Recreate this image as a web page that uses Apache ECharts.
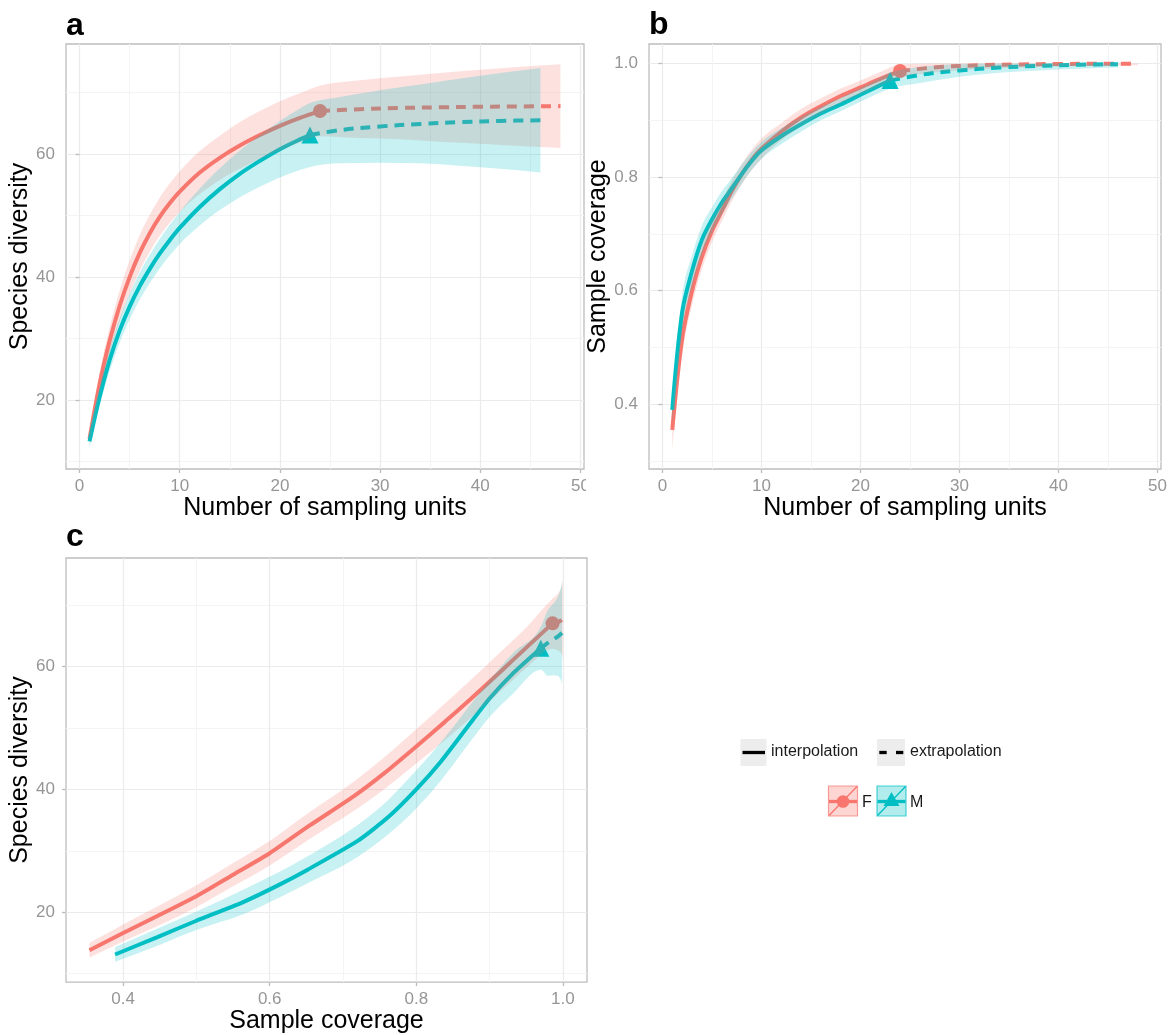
<!DOCTYPE html>
<html><head><meta charset="utf-8">
<script src="https://cdn.jsdelivr.net/npm/echarts@6/dist/echarts.min.js"></script>
<style>html,body{margin:0;padding:0;background:#fff}#c{width:1171px;height:1035px}</style>
</head><body><div id="c"></div>
<script>
const FONT = '"Liberation Sans", Arial, Helvetica, sans-serif';
const RED = '#F8766D', TEAL = '#00BFC4';

// ---- Panels a & b: number of sampling units (F) ----
const fM_int = [1,2,3,4,5,6,7,8,9,10,12,14,16,18,20,22,24];
const fQD_int = [13.7,22.6,29.6,35.3,40.0,43.9,47.1,49.8,52.0,53.9,57.0,59.4,61.4,63.1,64.6,65.9,67.0];
const fQDlo_int = [12.7,20.8,27.4,32.8,37.3,41.0,44.1,46.7,48.8,50.6,53.5,55.8,57.6,59.2,60.6,61.9,62.9];
const fQDhi_int = [14.7,24.4,31.8,37.8,42.7,46.8,50.1,52.9,55.2,57.2,60.5,63.0,65.2,67.0,68.6,69.9,71.1];
const fSC_int = [0.355,0.516,0.600,0.660,0.705,0.740,0.775,0.805,0.830,0.850,0.880,0.905,0.925,0.943,0.958,0.973,0.987];
const fSClo_int = [0.320,0.486,0.575,0.638,0.685,0.722,0.757,0.787,0.812,0.832,0.865,0.890,0.911,0.930,0.946,0.961,0.975];
const fSChi_int = [0.390,0.546,0.625,0.682,0.725,0.758,0.793,0.823,0.848,0.868,0.895,0.920,0.939,0.956,0.970,0.985,0.999];
const fM_ext = [24,28,32,36,40,44,48];
const fQD_ext = [67.0,67.3,67.5,67.6,67.7,67.75,67.8];
const fQDlo_ext = [62.9,62.6,62.4,62.0,61.7,61.3,61.0];
const fQDhi_ext = [71.1,72.0,72.6,73.2,73.7,74.2,74.6];
const fSC_ext = [0.987,0.994,0.997,0.9985,0.9993,0.9997,0.9999];
const fSClo_ext = [0.975,0.985,0.990,0.993,0.995,0.996,0.997];
const fSChi_ext = [0.999,1.0,1.0,1.0,1.0,1.0,1.0];

// ---- Panels a & b (M) ----
const mM_int = [1,2,3,4,5,6,7,8,9,10,12,14,16,18,20,22,23];
const mQD_int = [13.3,20.5,26.5,31.3,35.2,38.5,41.3,43.8,46.0,48.0,51.4,54.3,56.8,58.9,60.8,62.4,63.1];
const mQDlo_int = [12.3,19.0,24.7,29.3,33.1,36.3,39.0,41.4,43.5,45.4,48.4,50.9,53.0,54.7,56.2,57.4,57.9];
const mQDhi_int = [14.3,22.0,28.3,33.3,37.3,40.7,43.6,46.2,48.5,50.6,54.4,57.7,60.6,63.1,65.4,67.4,68.3];
const mSC_int = [0.390,0.562,0.635,0.690,0.725,0.755,0.780,0.805,0.828,0.847,0.872,0.893,0.912,0.928,0.945,0.962,0.970];
const mSClo_int = [0.365,0.532,0.607,0.665,0.703,0.735,0.762,0.788,0.812,0.832,0.858,0.880,0.900,0.916,0.933,0.949,0.956];
const mSChi_int = [0.415,0.592,0.663,0.715,0.747,0.775,0.798,0.822,0.844,0.862,0.886,0.906,0.924,0.940,0.957,0.975,0.984];
const mM_ext = [23,26,30,34,38,42,46];
const mQD_ext = [63.1,63.9,64.5,64.9,65.2,65.4,65.5];
const mQDlo_ext = [57.9,58.5,58.6,58.5,58.1,57.6,57.0];
const mQDhi_ext = [68.3,69.3,70.4,71.3,72.3,73.2,74.0];
const mSC_ext = [0.970,0.980,0.988,0.993,0.996,0.998,0.999];
const mSClo_ext = [0.956,0.966,0.977,0.984,0.988,0.991,0.993];
const mSChi_ext = [0.984,0.994,0.999,1.0,1.0,1.0,1.0];

// ---- Panel c: species diversity vs sample coverage ----
const cF_cov_int = [0.354,0.400,0.500,0.550,0.600,0.653,0.715,0.756,0.800,0.839,0.875,0.916,0.952,0.986];
const cF_qd_int = [13.8,16.6,22.6,26.1,29.6,34.0,38.9,42.6,47.0,51.0,54.8,59.3,63.3,67.05];
const cF_lo_int = [12.6,15.2,20.8,24.2,27.6,31.8,36.5,40.0,44.2,48.0,51.7,56.1,60.0,62.9];
const cF_hi_int = [15.0,18.0,24.4,28.0,31.6,36.2,41.3,45.2,49.8,54.0,57.9,62.5,66.6,71.1];
const cF_cov_ext = [0.986,0.994,0.997,0.9985,0.9993,0.9997,0.9999];
const cF_qd_ext = [67.05,67.3,67.5,67.6,67.7,67.75,67.8];
const cF_lo_ext = [62.9,62.6,62.4,62.0,61.7,61.3,61.0];
const cF_hi_ext = [71.1,72.0,72.6,73.2,73.7,74.2,74.6];
const cM_cov_int = [0.389,0.446,0.500,0.563,0.612,0.653,0.720,0.761,0.800,0.834,0.870,0.900,0.932,0.970];
const cM_qd_int = [13.1,15.9,18.6,21.6,24.4,27.0,31.6,35.4,40.0,44.6,50.2,54.8,58.9,63.0];
const cM_lo_int = [11.9,14.5,17.1,19.6,22.3,24.8,29.0,32.6,36.9,41.5,47.2,51.8,55.6,59.5];
const cM_hi_int = [14.3,17.3,20.1,23.6,26.5,29.2,34.2,38.2,43.1,47.7,53.2,57.8,62.2,66.5];
const cM_cov_ext = [0.970,0.980,0.988,0.993,0.996,0.998,0.999];
const cM_qd_ext = [63.0,63.9,64.5,64.9,65.2,65.4,65.5];
const cM_lo_ext = [59.5,58.5,58.6,58.5,58.1,57.6,57.0];
const cM_hi_ext = [66.5,69.3,70.4,71.3,72.3,73.2,74.0];

// ---- tick labels ----
const unitTicks = [0,10,20,30,40,50];
const unitMinor = [5,15,25,35,45];
const divTicks = [20,40,60];
const divMinor = [10,30,50,70];
const covTicks = [0.4,0.6,0.8,1.0];
const covMinorB = [0.3,0.5,0.7,0.9];
const covMinorC = [0.5,0.7,0.9];

const MAJOR = '#EBEBEB', MINOR = '#F4F4F4', BORDER = '#BDBDBD', LABEL = '#969696';

function axisPair(dir, grid, min, max, major, minor, fmt, name, nameGap, margin) {
  const main = {
    type: 'value', gridIndex: grid, min, max,
    position: dir === 'x' ? 'bottom' : 'left',
    name, nameLocation: 'middle', nameGap,
    nameTextStyle: { fontFamily: FONT, fontSize: 25, color: '#000' },
    axisLine: { show: false },
    axisTick: { show: true, length: 4, customValues: major, lineStyle: { color: BORDER, width: 1.3 } },
    axisLabel: { customValues: major, formatter: fmt, fontFamily: FONT, fontSize: 17, color: LABEL, margin },
    splitLine: { show: true, lineStyle: { color: MAJOR, width: 1.2 } }
  };
  if (dir === 'y') main.nameRotate = 90;
  const sub = {
    type: 'value', gridIndex: grid, min, max,
    position: dir === 'x' ? 'top' : 'right',
    axisLine: { show: false },
    axisTick: { show: false, customValues: minor },
    axisLabel: { show: false },
    splitLine: { show: true, lineStyle: { color: MINOR, width: 1 } }
  };
  return [main, sub];
}
const intFmt = v => String(Math.round(v));
const decFmt = v => v.toFixed(1);

const xAxis = [
  ...axisPair('x', 0, -1.35, 50.35, unitTicks, unitMinor, intFmt, 'Number of sampling units', 25, 9),
  ...axisPair('x', 1, -1.35, 50.35, unitTicks, unitMinor, intFmt, 'Number of sampling units', 25, 9),
  ...axisPair('x', 2, 0.322, 1.033, covTicks, covMinorC, decFmt, 'Sample coverage', 25, 9)
];
const yAxis = [
  ...axisPair('y', 0, 8.8, 77.9, divTicks, divMinor, intFmt, 'Species diversity', 30, 11),
  ...axisPair('y', 1, 0.286, 1.0345, covTicks, covMinorB, decFmt, 'Sample coverage', 37, 11),
  ...axisPair('y', 2, 8.6, 77.7, divTicks, divMinor, intFmt, 'Species diversity', 30, 11)
];

const zip = (xs, ys) => xs.map((x, i) => [x, ys[i]]);
const joinArr = (a, b) => a.concat(b.slice(1));

// monotone (in x) cubic segments through pixel points -> list of bezier segments
function monoSegments(p) {
  const n = p.length, m = new Array(n).fill(0), s = [];
  for (let i = 0; i < n - 1; i++) {
    const h = p[i + 1][0] - p[i][0];
    s.push(h !== 0 ? (p[i + 1][1] - p[i][1]) / h : 0);
  }
  for (let i = 1; i < n - 1; i++) {
    const h0 = p[i][0] - p[i - 1][0], h1 = p[i + 1][0] - p[i][0];
    const s0 = s[i - 1], s1 = s[i];
    const q = (s0 * h1 + s1 * h0) / ((h0 + h1) || 1);
    m[i] = (Math.sign(s0) + Math.sign(s1)) * Math.min(Math.abs(s0), Math.abs(s1), 0.5 * Math.abs(q)) || 0;
  }
  if (n > 2) { m[0] = (3 * s[0] - m[1]) / 2; m[n - 1] = (3 * s[n - 2] - m[n - 2]) / 2; }
  else { m[0] = s[0]; m[n - 1] = s[0]; }
  const seg = [];
  for (let i = 0; i < n - 1; i++) {
    const dx = (p[i + 1][0] - p[i][0]) / 3;
    seg.push([p[i], [p[i][0] + dx, p[i][1] + m[i] * dx], [p[i + 1][0] - dx, p[i + 1][1] - m[i + 1] * dx], p[i + 1]]);
  }
  return seg;
}
const pt = q => q[0].toFixed(2) + ',' + q[1].toFixed(2);

function band(ax, xs, lo, hi, color) {
  return {
    type: 'custom', xAxisIndex: ax, yAxisIndex: ax, silent: true, z: 3,
    data: xs.map((x, i) => [x, lo[i], hi[i]]),
    encode: { x: 0, y: [1, 2] },
    renderItem: function (params, api) {
      if (params.dataIndex !== 0) return null;
      const up = xs.map((x, i) => api.coord([x, hi[i]]));
      const dn = xs.map((x, i) => api.coord([x, lo[i]]));
      const su = monoSegments(up), sd = monoSegments(dn);
      let d = 'M' + pt(up[0]);
      su.forEach(g => { d += ' C' + pt(g[1]) + ' ' + pt(g[2]) + ' ' + pt(g[3]); });
      d += ' L' + pt(dn[dn.length - 1]);
      for (let i = sd.length - 1; i >= 0; i--) { const g = sd[i]; d += ' C' + pt(g[2]) + ' ' + pt(g[1]) + ' ' + pt(g[0]); }
      d += ' Z';
      return { type: 'path', shape: { pathData: d }, style: { fill: color, opacity: 0.22 } };
    }
  };
}
function curve(ax, xs, ys, color, dashed, sm) {
  return { type: 'line', xAxisIndex: ax, yAxisIndex: ax, smooth: sm, symbol: 'none', silent: true, z: 2,
    lineStyle: { color, width: 4, type: dashed ? [10, 7] : 'solid', cap: 'butt' },
    data: zip(xs, ys) };
}
function point(ax, x, y, color, sym, size) {
  return { type: 'scatter', xAxisIndex: ax, yAxisIndex: ax, symbol: sym, symbolSize: size, silent: true, z: 2,
    itemStyle: { color, opacity: 1 }, data: [[x, y]] };
}

const A = 0, B = 2, C = 4;
const last = a => a[a.length - 1];
const series = [
  // panel a
  curve(A, fM_int, fQD_int, RED, false, 0.35), curve(A, fM_ext, fQD_ext, RED, true, 0.35),
  curve(A, mM_int, mQD_int, TEAL, false, 0.35), curve(A, mM_ext, mQD_ext, TEAL, true, 0.35),
  point(A, last(fM_int), last(fQD_int), RED, 'circle', 14),
  point(A, last(mM_int), last(mQD_int), TEAL, 'triangle', 17),
  band(A, joinArr(fM_int, fM_ext), joinArr(fQDlo_int, fQDlo_ext), joinArr(fQDhi_int, fQDhi_ext), RED),
  band(A, joinArr(mM_int, mM_ext), joinArr(mQDlo_int, mQDlo_ext), joinArr(mQDhi_int, mQDhi_ext), TEAL),
  // panel b
  curve(B, fM_int, fSC_int, RED, false, 0.35), curve(B, fM_ext, fSC_ext, RED, true, 0.35),
  curve(B, mM_int, mSC_int, TEAL, false, 0.35), curve(B, mM_ext, mSC_ext, TEAL, true, 0.35),
  point(B, last(fM_int), last(fSC_int), RED, 'circle', 14),
  point(B, last(mM_int), last(mSC_int), TEAL, 'triangle', 17),
  band(B, joinArr(fM_int, fM_ext), joinArr(fSClo_int, fSClo_ext), joinArr(fSChi_int, fSChi_ext), RED),
  band(B, joinArr(mM_int, mM_ext), joinArr(mSClo_int, mSClo_ext), joinArr(mSChi_int, mSChi_ext), TEAL),
  // panel c
  curve(C, cF_cov_int, cF_qd_int, RED, false, 0.2), curve(C, cF_cov_ext, cF_qd_ext, RED, true, 0.2),
  curve(C, cM_cov_int, cM_qd_int, TEAL, false, 0.2), curve(C, cM_cov_ext, cM_qd_ext, TEAL, true, 0.2),
  point(C, last(cF_cov_int), last(cF_qd_int), RED, 'circle', 14),
  point(C, last(cM_cov_int), last(cM_qd_int), TEAL, 'triangle', 17),
  band(C, joinArr(cF_cov_int, cF_cov_ext), joinArr(cF_lo_int, cF_lo_ext), joinArr(cF_hi_int, cF_hi_ext), RED),
  band(C, joinArr(cM_cov_int, cM_cov_ext), joinArr(cM_lo_int, cM_lo_ext), joinArr(cM_hi_int, cM_hi_ext), TEAL)
];

const panelFont = 'bold 32px ' + FONT;
const legFont = '16px ' + FONT;
const graphic = [
  { type: 'rect', shape: { x: 586, y: 474, width: 14, height: 26 }, style: { fill: '#fff' }, z: 100 },
  { type: 'text', x: 66, y: 26, style: { text: 'a', font: panelFont, fill: '#000', verticalAlign: 'middle' } },
  { type: 'text', x: 649, y: 25, style: { text: 'b', font: panelFont, fill: '#000', verticalAlign: 'middle' } },
  { type: 'text', x: 66, y: 537, style: { text: 'c', font: panelFont, fill: '#000', verticalAlign: 'middle' } },
  // legend row 1
  { type: 'rect', shape: { x: 740.5, y: 739, width: 26, height: 27 }, style: { fill: '#EDEDED' } },
  { type: 'line', shape: { x1: 742.5, y1: 752.5, x2: 765, y2: 752.5 }, style: { stroke: '#000', lineWidth: 3.3 } },
  { type: 'text', x: 771, y: 752, style: { text: 'interpolation', font: legFont, fill: '#1a1a1a', verticalAlign: 'middle' } },
  { type: 'rect', shape: { x: 877, y: 739, width: 28, height: 27 }, style: { fill: '#EDEDED' } },
  { type: 'line', shape: { x1: 879.3, y1: 752.5, x2: 886.7, y2: 752.5 }, style: { stroke: '#000', lineWidth: 3.3 } },
  { type: 'line', shape: { x1: 896, y1: 752.5, x2: 903.3, y2: 752.5 }, style: { stroke: '#000', lineWidth: 3.3 } },
  { type: 'text', x: 910, y: 752, style: { text: 'extrapolation', font: legFont, fill: '#1a1a1a', verticalAlign: 'middle' } },
  // legend row 2: F
  { type: 'rect', shape: { x: 828.5, y: 786, width: 29, height: 30 }, style: { fill: 'rgba(248,118,109,0.3)', stroke: 'rgba(248,118,109,0.7)', lineWidth: 1.2 } },
  { type: 'line', shape: { x1: 829, y1: 815.5, x2: 857, y2: 786.5 }, style: { stroke: RED, lineWidth: 1.3 } },
  { type: 'line', shape: { x1: 829, y1: 801.5, x2: 857, y2: 801.5 }, style: { stroke: RED, lineWidth: 3.3 } },
  { type: 'circle', shape: { cx: 843, cy: 801.5, r: 6.3 }, style: { fill: RED } },
  { type: 'text', x: 862, y: 803, style: { text: 'F', font: legFont, fill: '#1a1a1a', verticalAlign: 'middle' } },
  // legend row 2: M
  { type: 'rect', shape: { x: 877, y: 786, width: 29, height: 30 }, style: { fill: 'rgba(0,191,196,0.3)', stroke: 'rgba(0,191,196,0.7)', lineWidth: 1.2 } },
  { type: 'line', shape: { x1: 877.5, y1: 815.5, x2: 905.5, y2: 786.5 }, style: { stroke: TEAL, lineWidth: 1.3 } },
  { type: 'line', shape: { x1: 877.5, y1: 801.5, x2: 905.5, y2: 801.5 }, style: { stroke: TEAL, lineWidth: 3.3 } },
  { type: 'polygon', shape: { points: [[891.5, 792], [883.5, 806], [899.5, 806]] }, style: { fill: TEAL } },
  { type: 'text', x: 910, y: 803, style: { text: 'M', font: legFont, fill: '#1a1a1a', verticalAlign: 'middle' } }
];

const chart = echarts.init(document.getElementById('c'), null, { renderer: 'canvas' });
chart.setOption({
  animation: false,
  backgroundColor: '#fff',
  grid: [
    { left: 66, top: 44, width: 518, height: 425, show: true, borderColor: BORDER, borderWidth: 1.3, backgroundColor: '#fff' },
    { left: 649, top: 44, width: 512, height: 425, show: true, borderColor: BORDER, borderWidth: 1.3, backgroundColor: '#fff' },
    { left: 66, top: 558, width: 521, height: 429, show: true, borderColor: BORDER, borderWidth: 1.3, backgroundColor: '#fff' }
  ],
  xAxis, yAxis, series, graphic
});
</script></body></html>
